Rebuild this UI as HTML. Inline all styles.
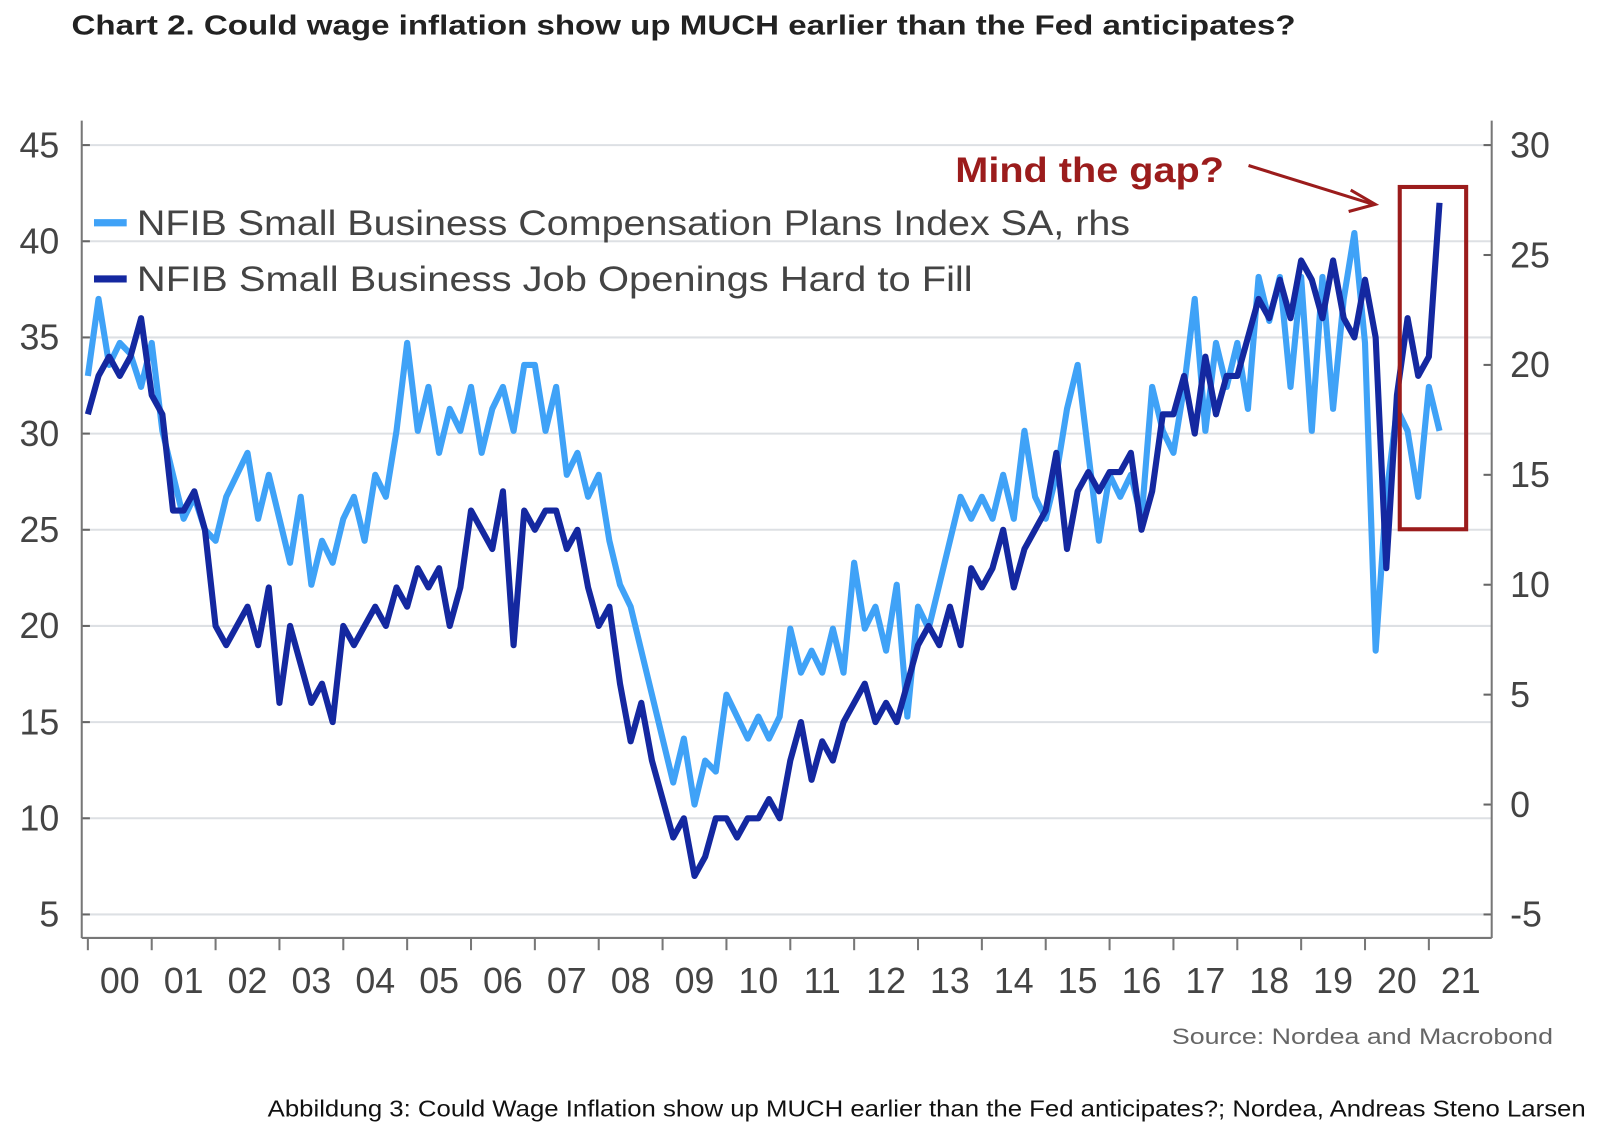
<!DOCTYPE html>
<html><head><meta charset="utf-8"><style>
body{margin:0;background:#fff;width:1600px;height:1128px;overflow:hidden;font-family:"Liberation Sans",sans-serif}
</style></head><body>
<svg id="chart" width="1600" height="1128" viewBox="0 0 1566 1104" preserveAspectRatio="none" xmlns="http://www.w3.org/2000/svg">
<text x="70" y="34" font-size="27" font-weight="bold" fill="#222" textLength="1198" lengthAdjust="spacingAndGlyphs">Chart 2. Could wage inflation show up MUCH earlier than the Fed anticipates?</text>
<g id="grid"></g><g id="axes"></g><g id="series"></g>
<g>
<line x1="92" y1="218" x2="124" y2="218" stroke="#3fa2f7" stroke-width="7"/>
<text x="134" y="230" font-size="34" fill="#444" textLength="972" lengthAdjust="spacingAndGlyphs">NFIB Small Business Compensation Plans Index SA, rhs</text>
<line x1="92" y1="273" x2="124" y2="273" stroke="#1428a0" stroke-width="7"/>
<text x="134" y="285" font-size="34" fill="#444" textLength="818" lengthAdjust="spacingAndGlyphs">NFIB Small Business Job Openings Hard to Fill</text>
</g>
<text x="935" y="178" font-size="34" font-weight="bold" fill="#9b1c1c" textLength="263" lengthAdjust="spacingAndGlyphs">Mind the gap?</text>
<g stroke="#9b1c1c" stroke-width="3" fill="none">
<line x1="1222" y1="162" x2="1344" y2="200"/><polyline points="1322,186 1346,200 1320,207"/></g>
<rect x="1370" y="183" width="65" height="335" fill="none" stroke="#9b1c1c" stroke-width="4"/>
<text x="1147" y="1022" font-size="22" fill="#666" textLength="373" lengthAdjust="spacingAndGlyphs">Source: Nordea and Macrobond</text>
<text x="262" y="1093" font-size="23" fill="#111" textLength="1290" lengthAdjust="spacingAndGlyphs">Abbildung 3: Could Wage Inflation show up MUCH earlier than the Fed anticipates?; Nordea, Andreas Steno Larsen</text>
</svg>
<script>
const leftTicks=[45,40,35,30,25,20,15,10,5];
const rightTicks=[30,25,20,15,10,5,0,-5];
const yearLabels=["00","01","02","03","04","05","06","07","08","09","10","11","12","13","14","15","16","17","18","19","20","21"];
const jobOpenings=[31,33,34,33,34,36, 32,31,26,26,27,25, 20,19,20,21,19,22, 16,20,18,16,17,15, 20,19,20,21,20,22, 21,23,22,23,20,22, 26,25,24,27,19,26, 25,26,26,24,25,22, 20,21,17,14,16,13, 11,9,10,7,8,10, 10,9,10,10,11,10, 13,15,12,14,13,15, 16,17,15,16,15,17, 19,20,19,21,19,23, 22,23,25,22,24,25, 26,29,24,27,28,27, 28,28,29,25,27,31, 31,33,30,34,31,33, 33,35,37,36,38,36, 39,38,36,39,36,35, 38,35,23,32,36,33, 34,42];
const compensation=[19.5,23,20,21,20.5,19, 21,17,15,13,14,12.5, 12,14,15,16,13,15, 13,11,14,10,12,11, 13,14,12,15,14,17, 21,17,19,16,18,17, 19,16,18,19,17,20, 20,17,19,15,16,14, 15,12,10,9,7,5, 3,1,3,0,2,1.5, 5,4,3,4,3,4, 8,6,7,6,8,6, 11,8,9,7,10,4, 9,8,10,12,14,13, 14,13,15,13,17,14, 13,15,18,20,16,12, 15,14,15,13,19,17, 16,19,23,17,21,19, 21,18,24,22,24,19, 24,17,24,18,23,26, 21,7,14,18,17,14, 19,17];
const NS="http://www.w3.org/2000/svg";
const x0=86,yearW=62.5,L=80,R=1460;
const xs=i=>x0+(i/6)*yearW;
const yL=v=>142+(45-v)*(895-142)/40;
const yR=v=>142+(30-v)*(895-142)/35;
function mk(t,a,p){const e=document.createElementNS(NS,t);for(const k in a)e.setAttribute(k,a[k]);p.appendChild(e);return e;}
const grid=document.getElementById('grid'),axes=document.getElementById('axes'),ser=document.getElementById('series');
leftTicks.forEach(v=>{
 const g=mk('line',{x1:L,x2:R,y1:yL(v),y2:yL(v),stroke:'#dde0e4','stroke-width':2},grid);
 
 
 const t=mk('text',{x:58,y:yL(v)+12,'font-size':35,fill:'#444','text-anchor':'end'},axes);t.textContent=v;
 
 
 mk('line',{x1:L,x2:L+8,y1:yL(v),y2:yL(v),stroke:'#666','stroke-width':2},axes);
});
rightTicks.forEach(v=>{
 const t=mk('text',{x:1478,y:yR(v)+12,'font-size':35,fill:'#444'},axes);t.textContent=v;
 
 
 mk('line',{x1:R-8,x2:R,y1:yR(v),y2:yR(v),stroke:'#666','stroke-width':2},axes);
});
mk('line',{x1:L,x2:L,y1:118,y2:918,stroke:'#777','stroke-width':2},axes);
mk('line',{x1:R,x2:R,y1:118,y2:918,stroke:'#777','stroke-width':2},axes);
mk('line',{x1:L,x2:R,y1:918,y2:918,stroke:'#777','stroke-width':2},axes);
yearLabels.forEach((s,i)=>{
 const x=x0+i*yearW;
 mk('line',{x1:x,x2:x,y1:918,y2:930,stroke:'#777','stroke-width':2},axes);
 const t=mk('text',{x:x+yearW/2,y:972,'font-size':35,fill:'#444','text-anchor':'middle'},axes);t.textContent=s;
 
 
});
const p1=mk('polyline',{points:compensation.map((v,i)=>xs(i)+','+yR(v)).join(' '),fill:'none',stroke:'#3fa2f7','stroke-width':6,'stroke-linejoin':'round'},ser);


const p2=mk('polyline',{points:jobOpenings.map((v,i)=>xs(i)+','+yL(v)).join(' '),fill:'none',stroke:'#1428a0','stroke-width':6,'stroke-linejoin':'round'},ser);


</script>
</body></html>
